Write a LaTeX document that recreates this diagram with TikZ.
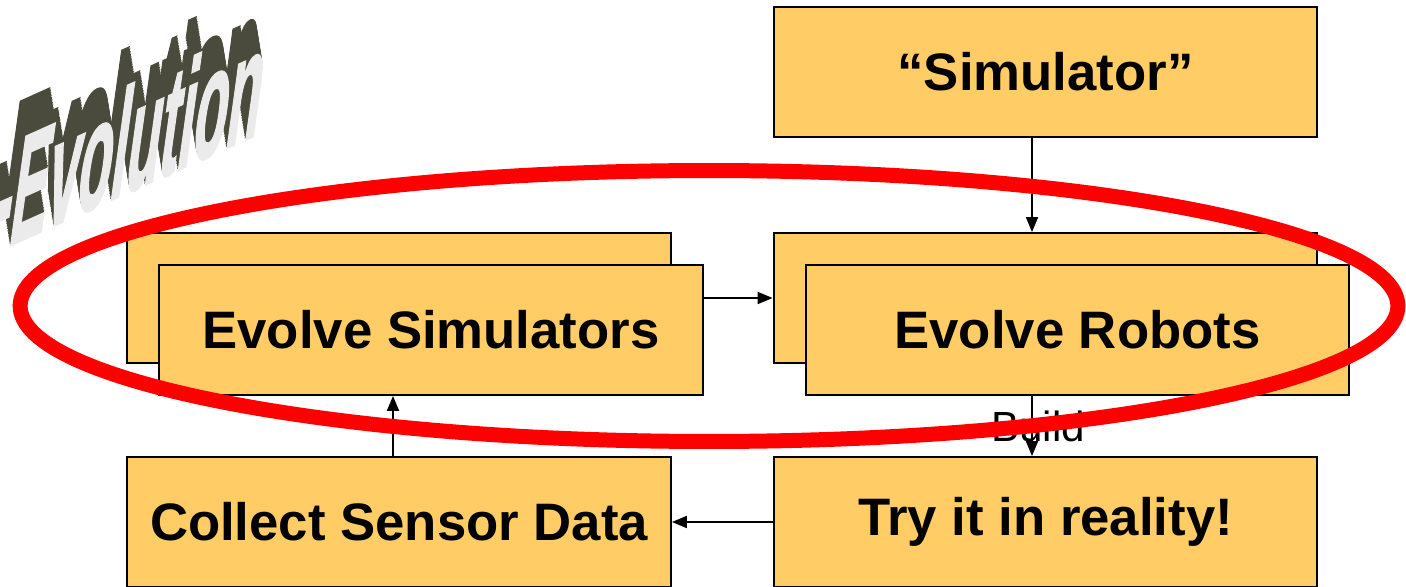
\documentclass[tikz,border=0pt]{standalone}
\usepackage{fontspec}
\setmainfont{Liberation Sans}
\newfontfamily\pesante[FakeBold=2]{Liberation Sans Bold}
\usetikzlibrary{arrows.meta}

\definecolor{arancio}{HTML}{FFCC66}
\definecolor{rosso}{HTML}{FF0000}
\definecolor{oliva}{HTML}{4A4B3C}
\definecolor{argento}{HTML}{EBEBEB}

\begin{document}
\begin{tikzpicture}[x=0.02cm,y=-0.02cm,
  casella/.style={draw=black,line width=1.1pt,fill=arancio,
    minimum width=10.88cm,minimum height=2.6cm,inner sep=0pt,
    font=\fontsize{30}{36}\selectfont\bfseries},
  freccia/.style={line width=1.1pt,-{Triangle[length=0.3cm,width=0.24cm]}},
  etichetta/.style={font=\fontsize{24}{28}\selectfont,inner sep=0pt},
  scritta/.style={transform shape,inner sep=0pt,
    font=\fontsize{40}{40}\selectfont\pesante}]
  \clip (0,0) rectangle (1406,587);
  % Caselle: le due centrali hanno una copia dietro, spostata in alto a sinistra.
  \node[casella] (sim) at (1045.5,72) {``Simulator''};
  \node[casella] (evsimB) at (399,298) {};
  \node[casella] (evsim) at (431,330) {Evolve Simulators};
  \node[casella] (evrobB) at (1045.5,298) {};
  \node[casella] (evrob) at (1077.5,330) {Evolve Robots};
  \node[casella] (raccolta) at (399,522) {Collect Sensor Data};
  \node[casella] (prova) at (1045.5,522) {Try it in reality!};
  % Frecce del ciclo
  \draw[freccia] ([xshift=-0.27cm]sim.south) -- ([xshift=-0.27cm]evrobB.north);
  \draw[freccia] (evsim.east |- evsimB.center) -- (evrobB.west);
  \draw[freccia] ([xshift=-0.27cm]prova.north |- evrob.south)
    -- node[etichetta,xshift=0.12cm] {Build} ([xshift=-0.27cm]prova.north);
  \draw[freccia] (prova.west) -- (raccolta.east);
  \draw[freccia] ([xshift=-0.12cm]raccolta.north) -- ([xshift=-0.12cm]raccolta.north |- evsim.south);
  % Ellisse rossa attorno alle due fasi di evoluzione
  \draw[rosso,line width=0.3cm] (709,306) ellipse [x radius=13.78cm,y radius=2.71cm];
  % Scritta in rilievo: prima i fianchi scuri, poi la faccia chiara.
  \foreach \k in {14,...,1}{
    \begin{scope}[shift={(94-0.4*\k,155-2.5*\k)},cm={0.78,0.35,0.31,2.23,(0,0)}]
      \node[scritta,text=oliva] {Co-Evolution};
    \end{scope}
  }
  \begin{scope}[shift={(94,155)},cm={0.78,0.35,0.31,2.23,(0,0)}]
    \node[scritta,text=argento] (parola) {Co-Evolution};
  \end{scope}
\end{tikzpicture}
\end{document}
